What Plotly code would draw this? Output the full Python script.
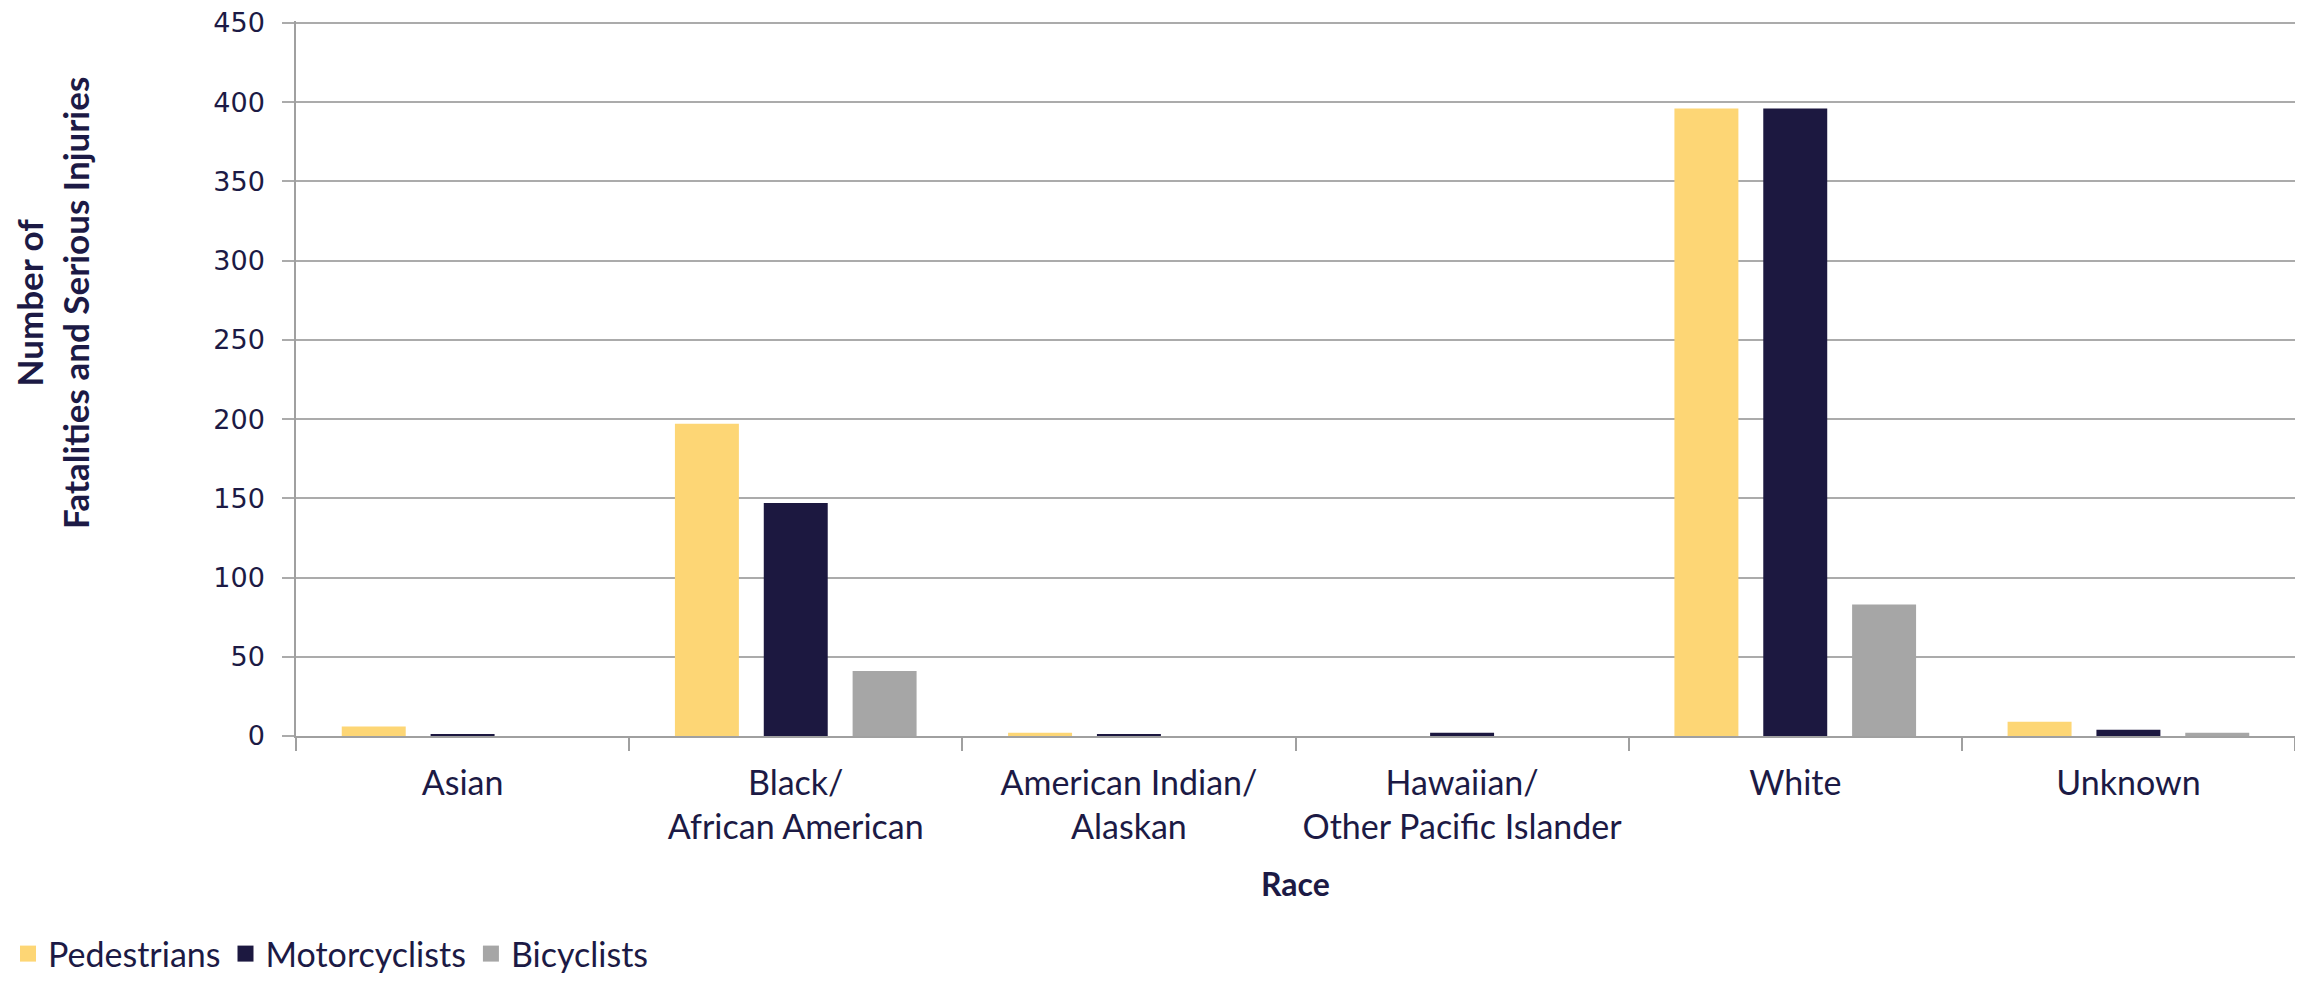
import plotly.graph_objects as go

categories = ["Asian", "Black/<br>African American", "American Indian/<br>Alaskan",
              "Hawaiian/<br>Other Pacific Islander", "White", "Unknown"]
pedestrians = [6, 197, 2, 0, 396, 9]
motorcyclists = [1, 147, 1, 2, 396, 4]
bicyclists = [0, 41, 0, 0, 83, 2]
y_ticks = [0, 50, 100, 150, 200, 250, 300, 350, 400, 450]

series = [
    ("Pedestrians", pedestrians, "#FDD675"),
    ("Motorcyclists", motorcyclists, "#1C1840"),
    ("Bicyclists", bicyclists, "#A6A6A6"),
]

TEXT = "#1C1A45"
GRID = "#ABABAB"

fig = go.Figure()
for name, vals, color in series:
    fig.add_trace(go.Bar(x=categories, y=vals, name=name, marker_color=color,
                         marker_line_width=0, legendgroup=name, showlegend=False))
# legend entries (square markers, larger than the default bar swatch)
for name, vals, color in series:
    fig.add_trace(go.Scatter(x=[None], y=[None], mode="markers", name=name,
                             legendgroup=name,
                             marker=dict(symbol="square", size=16, color=color,
                                         line_width=0)))

# page has an 8px body margin, so the figure is laid out 8px in/down
W, H = 2295, 975
L, R, T, B = 288, 8, 13, 247
plot_h = H - T - B
plot_w = W - L - R
y_max = 451.2

fig.update_layout(
    width=W, height=H,
    margin=dict(l=L, r=R, t=T, b=B, autoexpand=False),
    paper_bgcolor="white", plot_bgcolor="white",
    barmode="group", bargap=0.2, bargroupgap=0.28,
    font=dict(family="Lato", color=TEXT, size=34),
    showlegend=True,
    legend=dict(orientation="h", xref="container", yref="container",
                x=0, xanchor="left", y=0.0, yanchor="bottom",
                font=dict(family="Lato", size=34, color=TEXT),
                itemsizing="trace",
                bgcolor="rgba(0,0,0,0)", itemclick=False, itemdoubleclick=False),
    xaxis=dict(type="category", tickson="boundaries", ticks="outside", ticklen=13,
               tickcolor="#A0A0A0", tickwidth=1.5, showline=True, linecolor="#A0A0A0",
               linewidth=1.5, showgrid=False, automargin=False,
               tickfont=dict(family="Lato", size=34, color=TEXT),
               ticklabelstandoff=16),
    yaxis=dict(range=[0, y_max], tickmode="array", tickvals=y_ticks,
               ticktext=[str(v) for v in y_ticks], ticks="outside", ticklen=12,
               tickcolor=GRID, tickwidth=1.5, showline=True, linecolor="#A0A0A0",
               linewidth=1.5, showgrid=True, gridcolor=GRID, gridwidth=1.5,
               zeroline=False, ticklabeloverflow="allow", automargin=False,
               tickfont=dict(family="DejaVu Sans", size=27, color=TEXT),
               ticklabelstandoff=12),
)

y0_px = T + plot_h  # pixel row of value 0 in figure coordinates

fig.add_annotation(text="<b>Number of<br>Fatalities and Serious Injuries</b>",
                   xref="paper", yref="paper", x=(44 - L) / plot_w,
                   y=(y0_px - 295) / plot_h,
                   xanchor="center", yanchor="middle", textangle=-90, showarrow=False,
                   font=dict(family="Lato", size=35, color=TEXT))
fig.add_annotation(text="<b>Race</b>", xref="paper", yref="paper",
                   x=0.5, y=(y0_px - 875) / plot_h, xanchor="center", yanchor="middle",
                   showarrow=False, font=dict(family="Lato", size=32, color=TEXT))

fig.write_html("out.html")
